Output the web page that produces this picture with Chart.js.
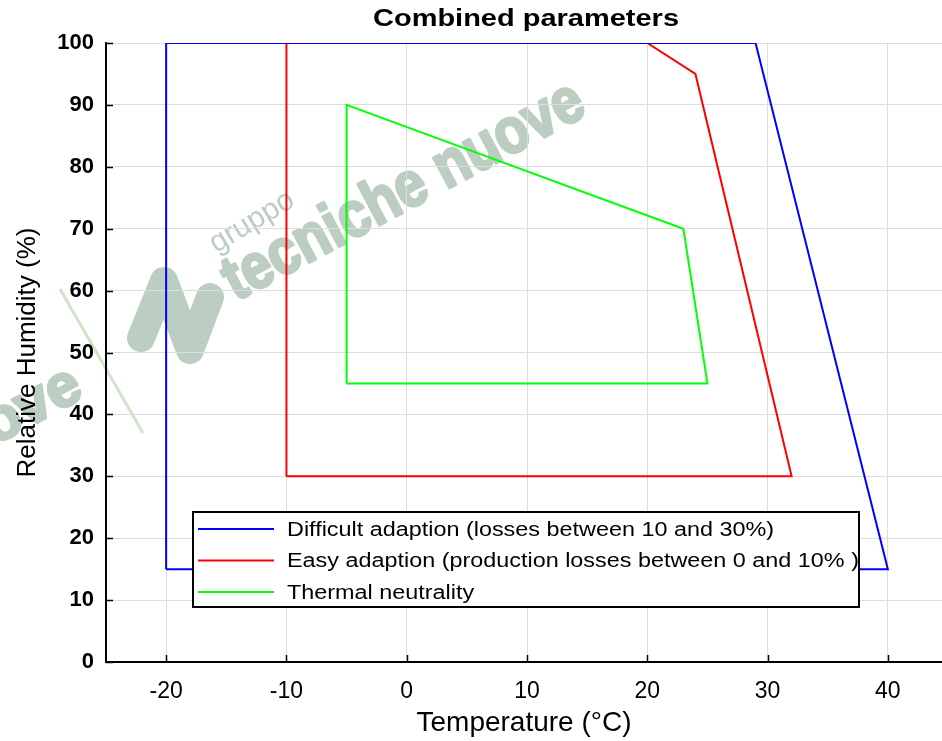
<!DOCTYPE html>
<html>
<head>
<meta charset="utf-8">
<title>Combined parameters</title>
<script src="https://cdn.jsdelivr.net/npm/chart.js@4.4.1/dist/chart.umd.min.js"></script>
<style>
    html, body { margin: 0; padding: 0; background: #fff; overflow: hidden; }
    #wrap { position: relative; width: 942px; height: 741px; }
</style>
</head>
<body>
<div id="wrap"><canvas id="grafico"></canvas></div>
<script>
// Contornos: temperatura (°C) e umidade relativa (%)
const xTicks = [-20, -10, 0, 10, 20, 30, 40];
const difficultTemp = [-20, -20, 29, 40, -20];
const difficultHum = [15, 100, 100, 15, 15];
const easyTemp = [-10, -10, 20, 24, 32, -10];
const easyHum = [30, 100, 100, 95, 30, 30];
const neutralTemp = [-5, -5, 23, 25, -5];
const neutralHum = [45, 90, 70, 45, 45];
const seriesLabels = [
    'Difficult adaption (losses between 10 and 30%)',
    'Easy adaption (production losses between 0 and 10% )',
    'Thermal neutrality'
];
const seriesColors = ['#0000ff', '#ff0000', '#00ff00'];
const chartTitle = 'Combined parameters';

const FONT = '"Liberation Sans", Arial, sans-serif';

function toPoints(xs, ys) {
    return xs.map((x, i) => ({ x: x, y: ys[i] }));
}

const series = [
    toPoints(difficultTemp, difficultHum),
    toPoints(easyTemp, easyHum),
    toPoints(neutralTemp, neutralHum)
];

// texto esticado na horizontal (a imagem original é mais larga)
function wideText(ctx, txt, x, y, stretch) {
    ctx.save();
    ctx.translate(x, y);
    ctx.scale(stretch, 1);
    ctx.fillText(txt, 0, 0);
    ctx.restore();
}

// Marca d'água + ticks internos + legenda com moldura + título
const extras = {
    id: 'extras',
    beforeDraw(chart) {
        const ctx = chart.ctx;
        ctx.save();
        ctx.fillStyle = '#bccdc1';
        ctx.strokeStyle = '#bccdc1';
        const ang = -28 * Math.PI / 180;

        // logo
        ctx.lineWidth = 28;
        ctx.lineCap = 'round';
        ctx.lineJoin = 'round';
        ctx.beginPath();
        ctx.moveTo(141, 338);
        ctx.lineTo(164, 281);
        ctx.lineTo(190, 350);
        ctx.lineTo(210, 297);
        ctx.stroke();

        // texto principal
        ctx.save();
        ctx.translate(404, 192);
        ctx.rotate(ang);
        ctx.font = 'bold 64px ' + FONT;
        ctx.textAlign = 'center';
        ctx.textBaseline = 'middle';
        const w = ctx.measureText('tecniche nuove').width;
        ctx.scale(400 / w, 1);
        ctx.lineWidth = 3;
        ctx.strokeText('tecniche nuove', 0, 0);
        ctx.fillText('tecniche nuove', 0, 0);
        ctx.restore();

        ctx.save();
        ctx.translate(252, 222);
        ctx.rotate(-31 * Math.PI / 180);
        ctx.font = '30px ' + FONT;
        ctx.textAlign = 'center';
        ctx.textBaseline = 'middle';
        ctx.fillText('gruppo', 0, 0);
        ctx.restore();

        ctx.save();
        ctx.translate(78, 382);
        ctx.rotate(ang);
        ctx.font = 'bold 60px ' + FONT;
        ctx.textAlign = 'right';
        ctx.textBaseline = 'middle';
        ctx.lineWidth = 3;
        ctx.strokeText('nuove', 0, 0);
        ctx.fillText('nuove', 0, 0);
        ctx.restore();

        ctx.strokeStyle = '#cfe5c8';
        ctx.lineWidth = 3;
        ctx.lineCap = 'butt';
        ctx.beginPath();
        ctx.moveTo(60, 289);
        ctx.lineTo(143, 433);
        ctx.stroke();
        ctx.restore();
    },
    afterDraw(chart) {
        const ctx = chart.ctx;
        const area = chart.chartArea;
        const sx = chart.scales.x;
        const sy = chart.scales.y;
        ctx.save();

        // título
        ctx.fillStyle = '#000';
        ctx.font = 'bold 23px ' + FONT;
        ctx.textAlign = 'center';
        ctx.textBaseline = 'middle';
        const tw = ctx.measureText(chartTitle).width;
        wideText(ctx, chartTitle, (area.left + area.right) / 2 + 2, 20, 306 / tw);

        ctx.strokeStyle = '#000';
        ctx.lineWidth = 1.5;
        ctx.beginPath();
        xTicks.forEach(v => {
            const px = Math.round(sx.getPixelForValue(v)) + 0.5;
            ctx.moveTo(px, area.bottom);
            ctx.lineTo(px, area.bottom - 7);
        });
        sy.ticks.forEach(t => {
            const py = Math.round(sy.getPixelForValue(t.value)) + 0.5;
            ctx.moveTo(area.left, py);
            ctx.lineTo(area.left + 7, py);
        });
        ctx.stroke();

        // legenda
        const lx = area.left + 87;
        const ly = area.top + 469;
        const lw = 666;
        const lh = 95;
        ctx.fillStyle = '#fff';
        ctx.fillRect(lx, ly, lw, lh);
        ctx.lineWidth = 2;
        ctx.strokeStyle = '#000';
        ctx.strokeRect(lx, ly, lw, lh);
        ctx.font = '20px ' + FONT;
        ctx.textBaseline = 'middle';
        ctx.textAlign = 'left';
        const stretch = 487 / ctx.measureText(seriesLabels[0]).width;
        seriesLabels.forEach((lab, i) => {
            const yy = ly + 17 + i * 31.5;
            ctx.strokeStyle = seriesColors[i];
            ctx.lineWidth = 2;
            ctx.beginPath();
            ctx.moveTo(lx + 5, yy);
            ctx.lineTo(lx + 81, yy);
            ctx.stroke();
            ctx.fillStyle = '#000';
            wideText(ctx, lab, lx + 94, yy + 1, stretch);
        });
        ctx.restore();
    }
};

new Chart(document.getElementById('grafico'), {
    type: 'scatter',
    data: {
        datasets: series.map((pts, i) => ({
            label: seriesLabels[i],
            data: pts,
            showLine: true,
            borderColor: seriesColors[i],
            backgroundColor: seriesColors[i],
            borderWidth: 2,
            pointRadius: 0,
            tension: 0,
            fill: false
        }))
    },
    options: {
        responsive: true,
        maintainAspectRatio: false,
        animation: false,
        layout: { padding: { top: 43, right: 0, bottom: 0, left: 0 } },
        plugins: {
            legend: { display: false },
            tooltip: { enabled: false },
            title: { display: false }
        },
        scales: {
            x: {
                type: 'linear',
                min: -25,
                max: 44.5,
                afterBuildTicks: scale => { scale.ticks = xTicks.map(v => ({ value: v })); },
                afterFit: scale => { scale.height = 79; },
                grid: { color: '#dddddd', lineWidth: 1, drawTicks: false },
                border: { color: '#000', width: 2 },
                ticks: {
                    color: '#000',
                    padding: 16,
                    font: { family: FONT, size: 23 },
                    callback: v => String(v)
                },
                title: {
                    display: true,
                    text: 'Temperature (°C)',
                    color: '#000',
                    font: { family: FONT, size: 28 },
                    padding: { top: 0, bottom: 1 }
                }
            },
            y: {
                type: 'linear',
                min: 0,
                max: 100,
                ticks: {
                    stepSize: 10,
                    color: '#000',
                    padding: 12,
                    font: { family: FONT, size: 22, weight: 'bold' }
                },
                afterFit: scale => { scale.width = 106; },
                grid: { color: '#dddddd', lineWidth: 1, drawTicks: false },
                border: { color: '#000', width: 2 },
                title: {
                    display: true,
                    text: 'Relative Humidity (%)',
                    color: '#000',
                    font: { family: FONT, size: 26 },
                    padding: { top: 12, bottom: 0 }
                }
            }
        }
    },
    plugins: [extras]
});
</script>
</body>
</html>
